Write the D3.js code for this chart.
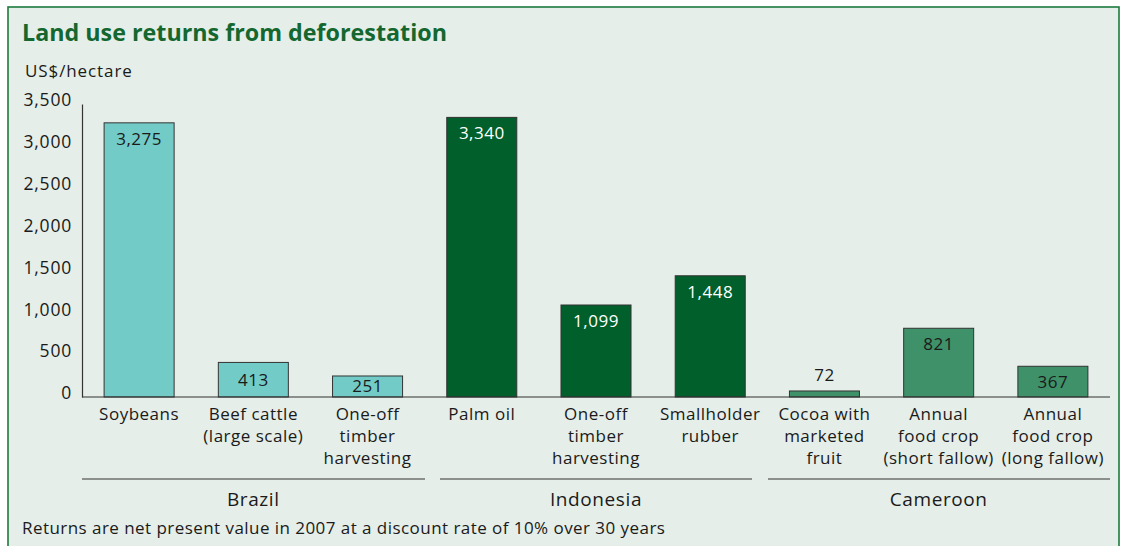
<!DOCTYPE html>
<html>
<head>
<meta charset="utf-8">
<script src="https://cdn.jsdelivr.net/npm/d3@7"></script>
<style>
  html, body { margin: 0; padding: 0; background: #ffffff; }
  svg { display: block; font-family: "Open Sans", sans-serif; }
</style>
</head>
<body>
<svg id="chart" width="1124" height="546"></svg>
<script>
const categories = [
  ["Soybeans"],
  ["Beef cattle", "(large scale)"],
  ["One-off", "timber", "harvesting"],
  ["Palm oil"],
  ["One-off", "timber", "harvesting"],
  ["Smallholder", "rubber"],
  ["Cocoa with", "marketed", "fruit"],
  ["Annual", "food crop", "(short fallow)"],
  ["Annual", "food crop", "(long fallow)"]
];
const values = [3275, 413, 251, 3340, 1099, 1448, 72, 821, 367];
const countryOf = [0, 0, 0, 1, 1, 1, 2, 2, 2];
const countries = ["Brazil", "Indonesia", "Cameroon"];
const countryColors = ["#72cbc6", "#005f2a", "#3f9169"];
const labelColors = ["#1a1a1a", "#ffffff", "#1a1a1a"];
const yTicks = [0, 500, 1000, 1500, 2000, 2500, 3000, 3500];

const FONT = "'Open Sans', sans-serif";
const LS = 0.5;
const svg = d3.select("#chart");

svg.append("rect").attr("x", 8).attr("y", 7).attr("width", 1111).attr("height", 545)
  .attr("fill", "#e5eee9").attr("stroke", "#1e7a3e").attr("stroke-width", 1.6);

svg.append("text").attr("x", 22).attr("y", 41)
  .attr("font-size", 23).attr("font-weight", 700).attr("fill", "#13672f")
  .attr("textLength", 425).attr("lengthAdjust", "spacingAndGlyphs")
  .text("Land use returns from deforestation");

svg.append("text").attr("x", 25).attr("y", 77).attr("letter-spacing", 0.9)
  .attr("font-size", 17).attr("fill", "#1a1a1a").text("US$/hectare");

const x0 = 82, x1 = 1110, y0 = 397;
const x = d3.scaleBand().domain(d3.range(values.length)).range([x0, x1])
  .paddingInner(0.387).paddingOuter(0.1935);
const y = d3.scaleLinear().domain([0, 3500]).range([y0, 104]);

const yAxis = d3.axisLeft(y).tickValues(yTicks).tickSize(0).tickPadding(10)
  .tickFormat(d3.format(","));
const gy = svg.append("g").attr("transform", `translate(${x0},0)`).call(yAxis);
gy.select(".domain").attr("stroke", "#333").attr("stroke-width", 1.2);
gy.selectAll("text").attr("font-size", 17.5).attr("fill", "#1a1a1a")
  .attr("letter-spacing", 0.8)
  .attr("font-family", FONT).attr("dy", "0.1em");

svg.selectAll("rect.bar").data(values).join("rect").attr("class", "bar")
  .attr("x", (d, i) => x(i)).attr("width", x.bandwidth())
  .attr("y", d => y(d)).attr("height", d => y0 - y(d))
  .attr("fill", (d, i) => countryColors[countryOf[i]])
  .attr("stroke", "#333").attr("stroke-width", 1);

svg.append("line").attr("x1", x0).attr("x2", x1).attr("y1", y0).attr("y2", y0)
  .attr("stroke", "#333").attr("stroke-width", 1.2);

svg.selectAll("text.val").data(values).join("text").attr("class", "val")
  .attr("x", (d, i) => x(i) + x.bandwidth() / 2)
  .attr("y", d => {
    const h = y0 - y(d);
    if (h < 15) return y(d) - 16;
    if (h < 40) return y(d) + h / 2;
    return y(d) + 16;
  })
  .attr("dy", "0.35em").attr("text-anchor", "middle").attr("font-size", 17)
  .attr("letter-spacing", LS)
  .attr("fill", (d, i) => (y0 - y(d) < 15) ? "#1a1a1a" : labelColors[countryOf[i]])
  .text(d => d3.format(",")(d));

const cat = svg.selectAll("text.cat").data(categories).join("text").attr("class", "cat")
  .attr("text-anchor", "middle").attr("font-size", 17).attr("fill", "#1a1a1a")
  .attr("letter-spacing", LS);
cat.each(function(lines, i) {
  const t = d3.select(this);
  lines.forEach((l, j) => {
    t.append("tspan").attr("x", x(i) + x.bandwidth() / 2).attr("y", 420 + j * 22).text(l);
  });
});

const groupSpans = [[82, 425], [440, 752], [768, 1110]];
groupSpans.forEach((s, gi) => {
  svg.append("line").attr("x1", s[0]).attr("x2", s[1]).attr("y1", 479).attr("y2", 479)
    .attr("stroke", "#333").attr("stroke-width", 1.2);
  const idx = d3.range(values.length).filter(i => countryOf[i] === gi);
  const cx = (x(idx[0]) + x(idx[idx.length - 1]) + x.bandwidth()) / 2;
  svg.append("text").attr("x", cx).attr("y", 506).attr("text-anchor", "middle")
    .attr("font-size", 19).attr("letter-spacing", 0.6)
    .attr("fill", "#1a1a1a").text(countries[gi]);
});

svg.append("text").attr("x", 22).attr("y", 534).attr("font-size", 17).attr("fill", "#1a1a1a")
  .attr("letter-spacing", 0.45)
  .text("Returns are net present value in 2007 at a discount rate of 10% over 30 years");
</script>
</body>
</html>
